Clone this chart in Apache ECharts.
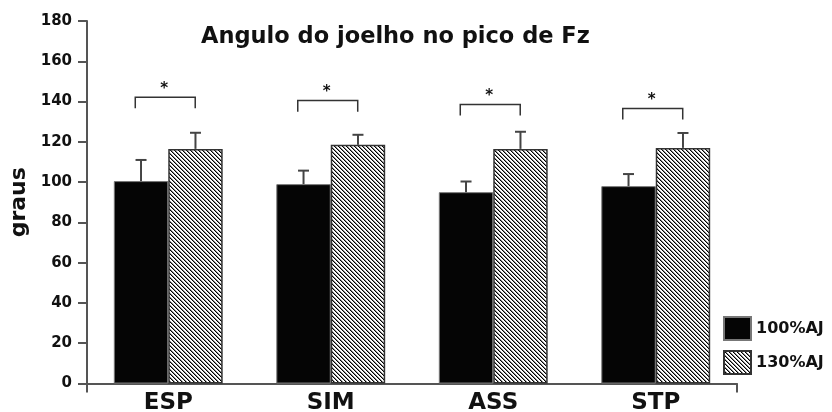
<!DOCTYPE html>
<html><head><meta charset="utf-8">
<script src="https://cdn.jsdelivr.net/npm/echarts@6/dist/echarts.min.js"></script>
<style>html,body{margin:0;padding:0;background:#fff}#c{width:832px;height:412px}</style>
</head><body><div id="c"></div>
<script>
const categories = ['ESP', 'SIM', 'ASS', 'STP'];
const seriesNames = ['100%AJ', '130%AJ'];
const means100 = [100.5, 99, 95, 98];
const sd100 = [10.5, 6.7, 5.3, 6];
const means130 = [116.5, 118.5, 116.5, 117];
const sd130 = [8, 5, 8.5, 7.4];
const bracketHeights = [142.2, 140.5, 138.6, 136.6];
const yTicks = [0, 20, 40, 60, 80, 100, 120, 140, 160, 180];

const FONT = 'DejaVu Sans, sans-serif';
const GAP = 0.33;

// hatch pattern: diagonal "\" stripes
const pc = document.createElement('canvas');
pc.width = 4; pc.height = 4;
const pctx = pc.getContext('2d');
pctx.fillStyle = '#ffffff'; pctx.fillRect(0, 0, 4, 4);
for (let i = 0; i < 4; i++) {
  pctx.fillStyle = '#000'; pctx.fillRect(i, i, 1, 1);
  pctx.fillStyle = '#8a8a8a'; pctx.fillRect((i + 1) % 4, i, 1, 1);
}
const hatch = { image: pc, repeat: 'repeat' };

function errRender(side) {
  return function (params, api) {
    const ci = api.value(0), m = api.value(1), e = api.value(2);
    const base = api.coord([ci, m]);
    const band = api.size([1, 0])[0];
    const bw = band * (1 - GAP) / 2;
    const x = base[0] + side * bw / 2;
    const yTop = api.coord([ci, m + e])[1];
    const st = { stroke: '#444', lineWidth: 2 };
    return { type: 'group', children: [
      { type: 'line', shape: { x1: x, y1: base[1], x2: x, y2: yTop }, style: st },
      { type: 'line', shape: { x1: x - 5.5, y1: yTop, x2: x + 5.5, y2: yTop }, style: st }
    ]};
  };
}

function bracketRender(params, api) {
  const ci = api.value(0), h = api.value(1);
  const c = api.coord([ci, h]);
  const band = api.size([1, 0])[0];
  const l = c[0] - band * 0.203, r = c[0] + band * 0.166;
  const drop = api.size([0, 5.5])[1];
  return { type: 'group', children: [
    { type: 'polyline', shape: { points: [[l, c[1] + drop], [l, c[1]], [r, c[1]], [r, c[1] + drop]] },
      style: { stroke: '#333', lineWidth: 1.5, fill: null } },
    { type: 'text', style: { text: '*', x: (l + r) / 2 - 1, y: c[1] - 8, align: 'center', verticalAlign: 'middle',
      font: 'bold 15px ' + FONT, fill: '#111' } }
  ]};
}

const chart = echarts.init(document.getElementById('c'));
chart.setOption({
  animation: false,
  backgroundColor: '#fff',
  title: { text: 'Angulo do joelho no pico de Fz', left: 196, top: 21,
    textStyle: { fontFamily: FONT, fontWeight: 'bold', fontSize: 22.5, color: '#111' } },
  legend: { orient: 'vertical', left: 718, top: 311, itemWidth: 27, itemHeight: 23, itemGap: 9,
    icon: 'rect', data: seriesNames,
    textStyle: { fontFamily: FONT, fontWeight: 'bold', fontSize: 16, color: '#111' } },
  grid: { left: 87, right: 95, top: 21, bottom: 28.5, outerBoundsMode: 'none', containLabel: false },
  xAxis: [{
    type: 'category', data: categories,
    axisLine: { show: true, lineStyle: { color: '#555', width: 2 } },
    axisTick: { show: false },
    axisLabel: { margin: 8, fontFamily: FONT, fontWeight: 'bold', fontSize: 23, color: '#111' }
  }, {
    type: 'value', min: 0, max: 4, interval: 4, position: 'bottom',
    axisLine: { show: false }, splitLine: { show: false },
    axisTick: { show: true, length: 9, lineStyle: { color: '#555', width: 2 } },
    axisLabel: { show: false }
  }],
  yAxis: {
    type: 'value', min: 0, max: 180, interval: 20,
    name: 'graus', nameLocation: 'middle', nameGap: 44, nameRotate: 90,
    nameTextStyle: { fontFamily: FONT, fontWeight: 'bold', fontSize: 22, color: '#111' },
    axisLine: { show: true, lineStyle: { color: '#555', width: 2 } },
    axisTick: { show: true, length: 9, lineStyle: { color: '#555', width: 2 } },
    splitLine: { show: false },
    axisLabel: { margin: 15, fontFamily: FONT, fontWeight: 'bold', fontSize: 15, color: '#111',
      formatter: v => yTicks.includes(v) ? String(v) : '' }
  },
  series: [
    { name: seriesNames[0], type: 'bar', data: means100, barGap: '0%', barCategoryGap: (GAP * 100) + '%',
      itemStyle: { color: '#050505', borderColor: '#777', borderWidth: 1 } },
    { name: seriesNames[1], type: 'bar', data: means130,
      itemStyle: { color: hatch, borderColor: '#333', borderWidth: 1.5 } },
    { type: 'custom', renderItem: errRender(-1), z: 5,
      data: categories.map((c, i) => [i, means100[i], sd100[i]]) },
    { type: 'custom', renderItem: errRender(1), z: 5,
      data: categories.map((c, i) => [i, means130[i], sd130[i]]) },
    { type: 'custom', renderItem: bracketRender, z: 5,
      data: categories.map((c, i) => [i, bracketHeights[i]]) }
  ]
});
</script></body></html>
